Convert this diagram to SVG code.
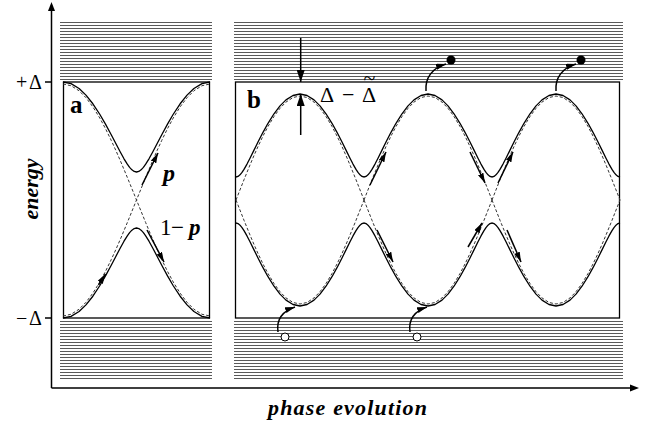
<svg xmlns="http://www.w3.org/2000/svg" xmlns:xlink="http://www.w3.org/1999/xlink" width="657" height="431" viewBox="0 0 657 431">
<style>
.stripe{stroke:#5a5a5a;stroke-width:1;fill:none}
.box{stroke:#000;stroke-width:1.3;fill:none}
.axis{stroke:#000;stroke-width:1.5;fill:none}
.sol{stroke:#000;stroke-width:1.3;fill:none;stroke-linejoin:round}
.dash{stroke:#333;stroke-width:1;fill:none;stroke-dasharray:3 2}
.arr{stroke:#000;stroke-width:1.5;fill:none;marker-end:url(#ah)}
.varr{stroke:#000;stroke-width:1.5;fill:none;marker-end:url(#ah2)}
.serif{font-family:"Liberation Serif","Times New Roman",serif;fill:#000}
.bi{font-weight:bold;font-style:italic}
</style>
<defs>
<marker id="ah" viewBox="0 0 10 6" refX="10" refY="3" markerWidth="10" markerHeight="6" markerUnits="userSpaceOnUse" orient="auto"><path d="M0,0 L10,3 L0,6 z" fill="#000"/></marker>
<marker id="ah2" viewBox="0 0 12 8" refX="12" refY="4" markerWidth="12" markerHeight="8" markerUnits="userSpaceOnUse" orient="auto"><path d="M0,0 L12,4 L0,8 z" fill="#000"/></marker>
<path id="hb" class="sol" d="M236,177 L238,176.45 L240,174.86 L242,172.44 L244,169.4 L247,164.07 L250,158.24 L254,150.14 L258,142.05 L263,132.31 L268,123.3 L274,113.77 L280,105.89 L286,99.9 L293,95.49 L300,94 L307,95.49 L314,99.9 L320,105.89 L326,113.77 L332,123.3 L337,132.31 L342,142.05 L346,150.14 L350,158.24 L353,164.07 L356,169.4 L358,172.44 L360,174.86 L362,176.45 L364,177"/>
<path id="db" class="dash" d="M236,200 L244,179.71 L250,164.96 L254,155.53 L258,146.53 L263,136.02 L268,126.46 L274,116.47 L280,108.28 L286,102.08 L293,97.53 L300,96 L307,97.53 L314,102.08 L320,108.28 L326,116.47 L332,126.46 L337,136.02 L342,146.53 L346,155.53 L350,164.96 L356,179.71 L364,200"/>
<path id="ha" class="sol" d="M63,82 L71.04,83.64 L79.08,88.5 L85.97,95.1 L92.86,103.77 L99.75,114.24 L105.49,124.12 L111.23,134.76 L115.83,143.55 L120.42,152.3 L123.87,158.54 L127.31,164.17 L129.61,167.34 L131.91,169.83 L134.2,171.44 L136.5,172 L138.8,171.44 L141.09,169.83 L143.39,167.34 L145.69,164.17 L149.13,158.54 L152.58,152.3 L157.17,143.55 L161.77,134.76 L167.51,124.12 L173.25,114.24 L180.14,103.77 L187.03,95.1 L193.92,88.5 L201.96,83.64 L210,82"/>
<path id="da" class="dash" d="M63,84 L71.04,85.71 L79.08,90.78 L85.97,97.7 L92.86,106.83 L99.75,117.98 L105.49,128.63 L111.23,140.36 L115.83,150.4 L120.42,160.92 L127.31,177.37 L136.5,200 L145.69,222.63 L152.58,239.08 L157.17,249.6 L161.77,259.64 L167.51,271.37 L173.25,282.02 L180.14,293.17 L187.03,302.3 L193.92,309.22 L201.96,314.29 L210,316"/>
</defs>

<g id="stripes-a">
<path class="stripe" d="M60,22.5H212M60,25.5H212M60,28.5H212M60,31.5H212M60,34.5H212M60,37.5H212M60,40.5H212M60,43.5H212M60,46.5H212M60,49.5H212M60,52.5H212M60,55.5H212M60,58.5H212M60,61.5H212M60,64.5H212M60,67.5H212M60,70.5H212M60,73.5H212M60,76.5H212M60,79.5H212"/>
<path class="stripe" d="M60,321.5H212M60,324.5H212M60,327.5H212M60,330.5H212M60,333.5H212M60,336.5H212M60,339.5H212M60,342.5H212M60,345.5H212M60,348.5H212M60,351.5H212M60,354.5H212M60,357.5H212M60,360.5H212M60,363.5H212M60,366.5H212M60,369.5H212M60,372.5H212M60,375.5H212M60,378.5H212"/>
</g>
<g id="stripes-b">
<path class="stripe" d="M234,22.5H623M234,25.5H623M234,28.5H623M234,31.5H623M234,34.5H623M234,37.5H623M234,40.5H623M234,43.5H623M234,46.5H623M234,49.5H623M234,52.5H623M234,55.5H623M234,58.5H623M234,61.5H623M234,64.5H623M234,67.5H623M234,70.5H623M234,73.5H623M234,76.5H623M234,79.5H623"/>
<path class="stripe" d="M234,321.5H623M234,324.5H623M234,327.5H623M234,330.5H623M234,333.5H623M234,336.5H623M234,339.5H623M234,342.5H623M234,345.5H623M234,348.5H623M234,351.5H623M234,354.5H623M234,357.5H623M234,360.5H623M234,363.5H623M234,366.5H623M234,369.5H623M234,372.5H623M234,375.5H623M234,378.5H623"/>
</g>

<g id="axes">
<path class="axis" d="M51.5,388 V10 M51.5,388 H631 M45,82 H51.5 M45,318 H51.5"/>
<path d="M51.5,2 L48,11 L55,11 z" fill="#000"/>
<path d="M639,388 L630,384.5 L630,391.5 z" fill="#000"/>
<text class="serif" x="16" y="88.5" font-size="20">+<tspan x="29">Δ</tspan></text>
<text class="serif" x="16" y="325" font-size="20">−<tspan x="29">Δ</tspan></text>
<text class="serif bi" transform="translate(38,189) rotate(-90)" text-anchor="middle" font-size="22">energy</text>
<text class="serif bi" x="268" y="415" font-size="22" textLength="159" lengthAdjust="spacing">phase evolution</text>
</g>

<g id="panel-a">
<rect class="box" x="63.5" y="82" width="146" height="236"/>
<use xlink:href="#da"/>
<use xlink:href="#da" transform="matrix(1 0 0 -1 0 400)"/>
<use xlink:href="#ha"/>
<use xlink:href="#ha" transform="matrix(1 0 0 -1 0 400)"/>
<text class="serif" x="70" y="113" font-size="25" font-weight="bold">a</text>
<text class="serif bi" x="163" y="181" font-size="24">p</text>
<text class="serif" x="160" y="235" font-size="23">1<tspan x="171">−</tspan><tspan x="189" font-weight="bold" font-style="italic">p</tspan></text>
</g>

<g id="panel-b">
<rect class="box" x="235.5" y="82" width="384" height="236"/>
<use xlink:href="#db"/>
<use xlink:href="#db" x="128"/>
<use xlink:href="#db" x="256"/>
<g transform="matrix(1 0 0 -1 0 400)">
<use xlink:href="#db"/>
<use xlink:href="#db" x="128"/>
<use xlink:href="#db" x="256"/>
</g>
<use xlink:href="#hb"/>
<use xlink:href="#hb" x="128"/>
<use xlink:href="#hb" x="256"/>
<g transform="matrix(1 0 0 -1 0 400)">
<use xlink:href="#hb"/>
<use xlink:href="#hb" x="128"/>
<use xlink:href="#hb" x="256"/>
</g>
<text class="serif" x="247" y="108" font-size="25" font-weight="bold">b</text>
<text class="serif" x="320" y="102" font-size="22">Δ<tspan x="342">−</tspan><tspan x="362">Δ</tspan><tspan x="363.5" y="85">~</tspan></text>
<circle cx="451" cy="60" r="4.5" fill="#000"/>
<circle cx="581" cy="60" r="4.5" fill="#000"/>
<circle cx="285" cy="337" r="4" fill="#fff" stroke="#000" stroke-width="1"/>
<circle cx="417" cy="337" r="4" fill="#fff" stroke="#000" stroke-width="1"/>
</g>

<g id="connectors">
<path class="arr" d="M142,185 L158,153"/>
<path class="arr" d="M147,230 L164,262"/>
<path class="arr" d="M98.5,285 L105.5,274"/>
<path class="arr" d="M370,185 L386,152"/>
<path class="arr" d="M377,230 L393,262"/>
<path class="arr" d="M470,152 L485,183"/>
<path class="arr" d="M498,183 L513,152"/>
<path class="arr" d="M468,247 L482,223"/>
<path class="arr" d="M507,230 L521,262"/>
<path class="varr" d="M300.7,38 V82"/>
<path class="varr" d="M300.7,135 V94"/>
<path class="arr" d="M426,91 C425,78 432,68 446,64"/>
<path class="arr" d="M556,91 C555,78 562,68 576,64"/>
<path class="arr" d="M278,332 C276,318 283,311 295,307"/>
<path class="arr" d="M410,332 C408,318 415,311 427,307"/>
</g>
</svg>
